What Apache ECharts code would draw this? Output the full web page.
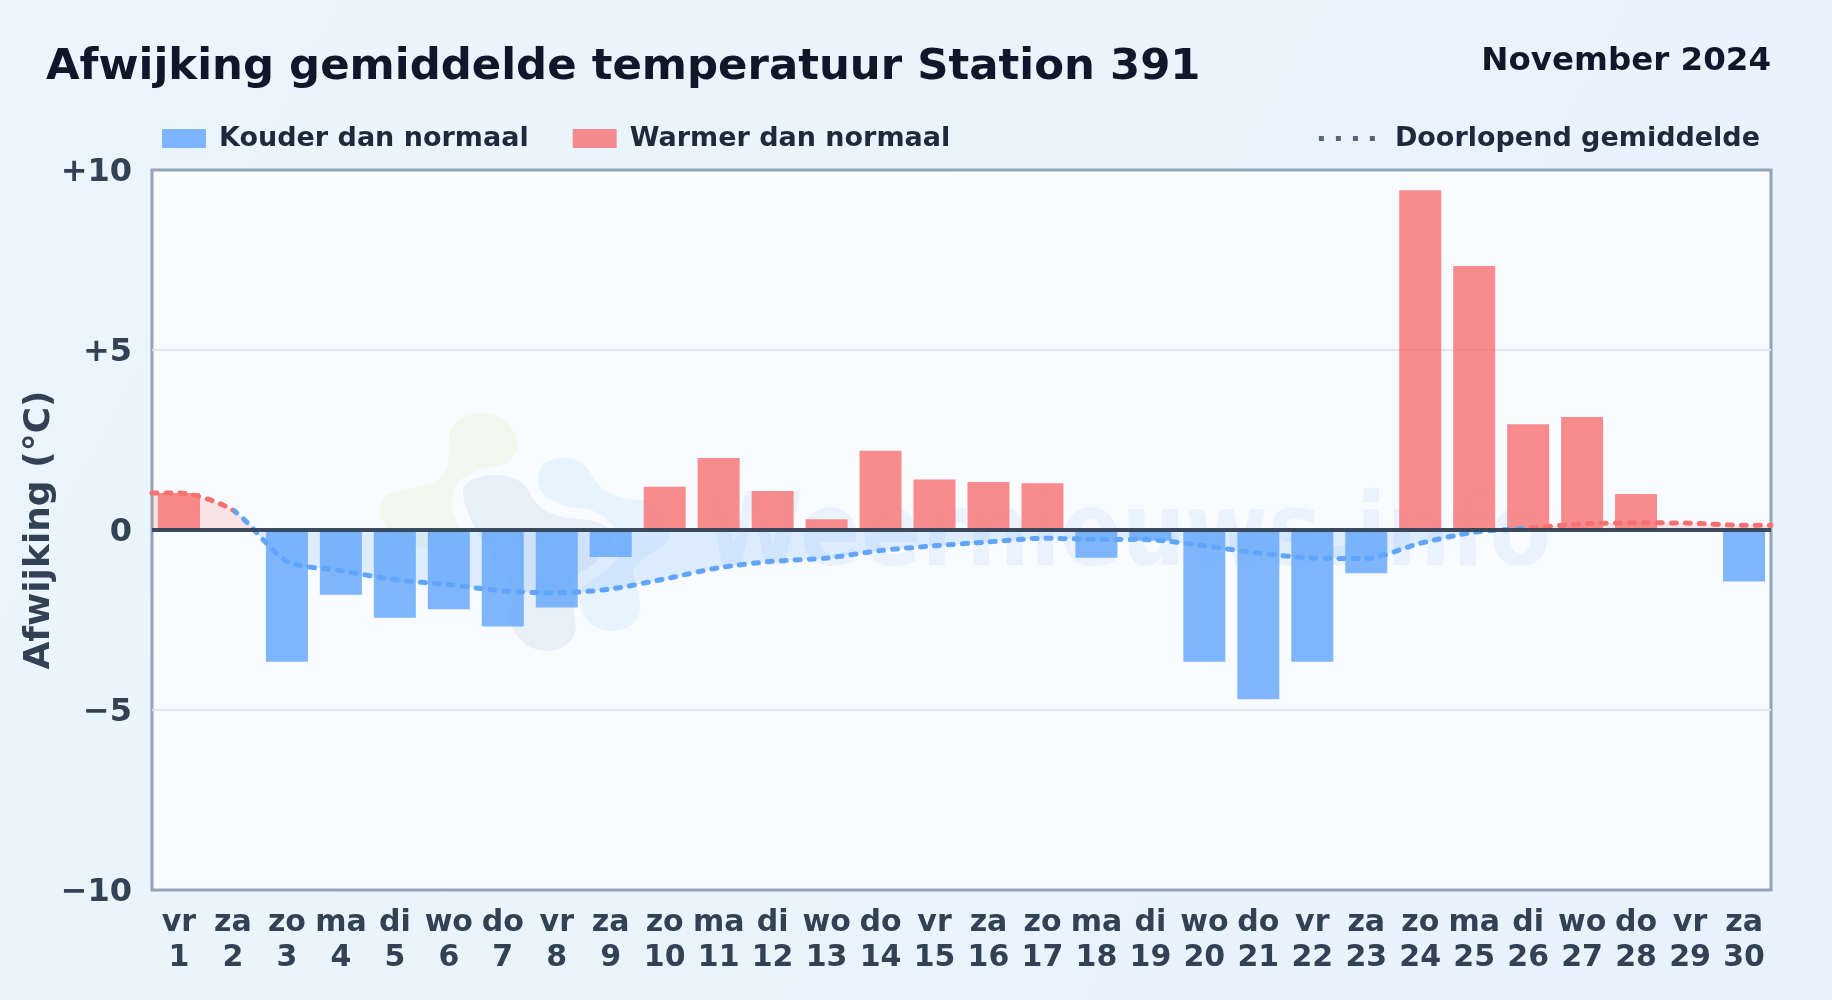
<!DOCTYPE html>
<html>
<head>
<meta charset="utf-8">
<style>html,body{margin:0;padding:0;background:#e9f3fc}#c{width:1832px;height:1000px}</style>
<script src="https://cdn.jsdelivr.net/npm/echarts@6/dist/echarts.min.js"></script>
</head>
<body>
<div id="c"></div>
<script>
const weekdays = ['vr','za','zo','ma','di','wo','do','vr','za','zo','ma','di','wo','do','vr','za','zo','ma','di','wo','do','vr','za','zo','ma','di','wo','do','vr','za'];
const dayNumbers = [1,2,3,4,5,6,7,8,9,10,11,12,13,14,15,16,17,18,19,20,21,22,23,24,25,26,27,28,29,30];
const colderValues = [null,null,-3.66,-1.8,-2.44,-2.2,-2.68,-2.15,-0.75,null,null,null,null,null,null,null,null,-0.77,-0.3,-3.66,-4.7,-3.66,-1.2,null,null,null,null,null,null,-1.43];
const warmerValues = [1.03,null,null,null,null,null,null,null,null,1.2,2.0,1.08,0.3,2.2,1.4,1.33,1.3,null,null,null,null,null,null,9.44,7.33,2.94,3.14,1.0,null,null];
const runningMean = [1.03,0.55,-0.87,-1.13,-1.38,-1.52,-1.69,-1.75,-1.64,-1.36,-1.05,-0.87,-0.78,-0.57,-0.44,-0.33,-0.23,-0.26,-0.27,-0.44,-0.64,-0.78,-0.79,-0.37,-0.06,0.05,0.17,0.2,0.19,0.13];
const yTickLabels = {'-10':'\u221210','-5':'\u22125','0':'0','5':'+5','10':'+10'};

const FONT = '"DejaVu Sans"';
const BLUE = '#60a5fa', RED = '#f87171';
const meanPoints = [[0.5, runningMean[0]]]
  .concat(runningMean.map((v, i) => [dayNumbers[i], v]))
  .concat([[30.5, runningMean[runningMean.length - 1]]]);

const blobs = [
  {d: 'M270,110 C290,40 440,25 470,130 C480,190 440,210 400,215 C340,225 280,250 275,310 C270,360 300,400 330,450 C250,470 180,470 130,440 C70,410 40,340 70,310 C100,280 200,280 240,250 C280,210 260,150 270,110 Z', style: {fill: '#f3f8ef'}},
  {d: 'M535,240 C545,175 660,165 695,240 C720,290 770,315 850,315 C920,330 950,390 920,440 C880,480 820,490 820,540 C850,620 860,700 760,708 C690,708 660,660 655,590 C700,540 770,520 780,470 C790,400 730,350 670,340 C600,340 520,300 535,240 Z', style: {fill: '#e8f4fd'}},
  {d: 'M302,280 C325,222 470,212 510,280 C530,330 570,360 650,365 C710,365 770,390 760,430 C740,490 690,530 660,540 C630,560 650,640 655,700 C640,805 460,805 440,660 C460,610 440,560 400,500 C370,450 295,350 302,280 Z', style: {fill: '#e7eff8', stroke: '#f8fbff', lineWidth: 14}}
];

function renderWatermark() {
  return {type: 'group', silent: true, children: blobs.map(b => ({
      type: 'path', x: 360, y: 395, scaleX: 1/3, scaleY: 1/3, shape: {pathData: b.d}, style: b.style
    })).concat([{
      type: 'text', x: 704, y: 589, scaleX: 1.02, scaleY: 1.15,
      style: {text: 'Weernieuws.info', font: 'bold 88px ' + FONT, fill: 'rgba(59,130,246,0.07)', verticalAlign: 'bottom', align: 'left'}
    }])};
}

const chart = echarts.init(document.getElementById('c'), null, {renderer: 'canvas'});
chart.setOption({
  animation: false,
  backgroundColor: {type: 'linear', x: 0, y: 0, x2: 1, y2: 1, colorStops: [{offset: 0, color: '#ebf5fd'}, {offset: 1, color: '#e7f2fc'}]},
  textStyle: {fontFamily: FONT},
  title: [
    {text: 'Afwijking gemiddelde temperatuur Station 391', left: 46, top: 46, padding: 0, textStyle: {fontFamily: FONT, fontWeight: 'bold', fontSize: 43.4, color: '#0f172a'}},
    {text: 'November 2024', right: 61, top: 45.5, padding: 0, textStyle: {fontFamily: FONT, fontWeight: 'bold', fontSize: 32.5, color: '#0f172a'}}
  ],
  legend: [
    {left: 162, top: 125, padding: 0, itemWidth: 44, itemHeight: 19, itemGap: 44, icon: 'rect', selectedMode: false,
     textStyle: {fontFamily: FONT, fontWeight: 'bold', fontSize: 27, color: '#1e293b', padding: [0, 0, 0, 8]},
     data: ['Kouder dan normaal', 'Warmer dan normaal']},
    {right: 72, top: 125, padding: 0, itemWidth: 56, itemHeight: 5, selectedMode: false,
     textStyle: {fontFamily: FONT, fontWeight: 'bold', fontSize: 27, color: '#1e293b', padding: [0, 0, 0, 15]},
     data: [{name: 'Doorlopend gemiddelde', icon: 'path://M0 0h5v5h-5zM17 0h5v5h-5zM34 0h5v5h-5zM51 0h5v5h-5z', itemStyle: {color: '#55657a'}, lineStyle: {width: 0, opacity: 0}}]}
  ],
  grid: {left: 152, top: 170, width: 1619, height: 720, show: true, backgroundColor: '#f8fbff', borderColor: '#94a3b8', borderWidth: 3},
  xAxis: [
    {type: 'category', data: weekdays.map((d, i) => d + '\n' + dayNumbers[i]), position: 'bottom',
     axisLine: {show: false}, axisTick: {show: false}, splitLine: {show: false},
     axisLabel: {interval: 0, margin: 16, fontFamily: FONT, fontWeight: 'bold', fontSize: 30, color: '#334155', lineHeight: 34.5}},
    {type: 'value', min: 0.5, max: 30.5, show: false}
  ],
  yAxis: {type: 'value', min: -10, max: 10, interval: 5,
    name: 'Afwijking (\u00b0C)', nameLocation: 'middle', nameGap: 94, nameRotate: 90, nameMoveOverlap: false,
    nameTextStyle: {fontFamily: FONT, fontWeight: 'bold', fontSize: 36, color: '#334155'},
    axisLine: {show: false}, axisTick: {show: false},
    axisLabel: {margin: 20, fontFamily: FONT, fontWeight: 'bold', fontSize: 32, color: '#334155', verticalAlign: 'top', lineHeight: 5, formatter: v => yTickLabels[String(v)]},
    splitLine: {show: true, showMinLine: false, showMaxLine: false, lineStyle: {color: '#e0e6ea', width: 2}}},
  visualMap: [
    {type: 'piecewise', show: false, seriesIndex: 3, dimension: 1, pieces: [{gte: -10, lt: 0, color: BLUE}, {gte: 0, lte: 10, color: RED}]},
    {type: 'piecewise', show: false, seriesIndex: 4, dimension: 0, pieces: [{gte: 0, lt: 2, color: RED}, {gte: 2, lt: 26, color: BLUE}, {gte: 26, lte: 31, color: RED}]}
  ],
  series: [
    {name: 'Watermerk', type: 'custom', coordinateSystem: 'none', z: 1, silent: true, data: [0], renderItem: renderWatermark},
    {name: 'Kouder dan normaal', type: 'bar', stack: 'd', barWidth: 42, z: 3, data: colderValues,
     itemStyle: {color: 'rgba(96,165,250,0.8)'},
     markLine: {silent: true, symbol: 'none', label: {show: false}, z: 8, data: [{yAxis: 0}], lineStyle: {color: '#334155', width: 4, type: 'solid', opacity: 0.95}}},
    {name: 'Warmer dan normaal', type: 'bar', stack: 'd', barWidth: 42, z: 3, data: warmerValues,
     itemStyle: {color: 'rgba(248,113,113,0.8)'}},
    {name: 'Gemiddelde vlak', type: 'line', xAxisIndex: 1, z: 2, data: meanPoints, smooth: 0.25,
     showSymbol: false, silent: true, lineStyle: {width: 0}, areaStyle: {opacity: 0.18}},
    {name: 'Doorlopend gemiddelde', type: 'line', xAxisIndex: 1, z: 5, data: meanPoints, smooth: 0.25,
     showSymbol: false, lineStyle: {width: 5, type: [5, 9], cap: 'round'}}
  ]
});
</script>
</body>
</html>
